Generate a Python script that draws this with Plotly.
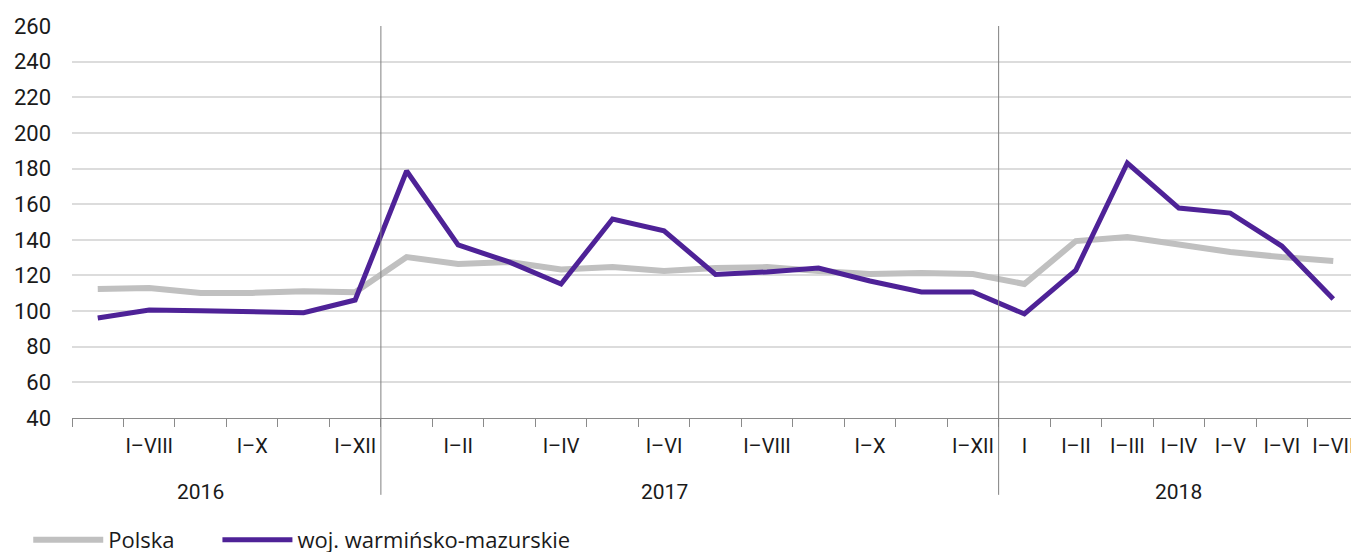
import plotly.graph_objects as go

periods = ["I–VII", "I–VIII", "I–IX", "I–X", "I–XI", "I–XII",
           "I", "I–II", "I–III", "I–IV", "I–V", "I–VI", "I–VII", "I–VIII", "I–IX", "I–X", "I–XI", "I–XII",
           "I", "I–II", "I–III", "I–IV", "I–V", "I–VI", "I–VII"]
shown = [False, True, False, True, False, True,
         False, True, False, True, False, True, False, True, False, True, False, True,
         True, True, True, True, True, True, True]
years = ["2016", "2017", "2018"]
year_counts = [6, 12, 7]

polska = [112.4, 113, 110.2, 110.2, 111.2, 110.6,
          130.3, 126.4, 127.5, 123.4, 124.7, 122.5, 124.2, 124.7, 122.5, 120.8, 121.4, 120.8,
          115.2, 139.3, 141.6, 137.6, 133.2, 130.3, 128.1]
warm = [96.1, 100.6, 100.2, 99.7, 99.1, 106.2,
        178.6, 137.1, 127.5, 115.2, 151.7, 145.0, 120.6, 122.0, 124.2, 116.9, 110.7, 110.7,
        98.4, 123.0, 183.1, 157.8, 155.0, 136.5, 106.8]

FONT = "Roboto, 'Open Sans', sans-serif"
LEGFONT = "'Open Sans', Roboto, sans-serif"
x = list(range(len(periods)))

fig = go.Figure()
fig.add_trace(go.Scatter(x=x, y=polska, name="Polska", mode="lines",
                         line=dict(color="#c0c0c0", width=6), legend="legend"))
fig.add_trace(go.Scatter(x=x, y=warm, name="woj. warmińsko-mazurskie", mode="lines",
                         line=dict(color="#4e2297", width=5), legend="legend2"))

# year separators and year labels
start = 0
for i, (yr, n) in enumerate(zip(years, year_counts)):
    fig.add_annotation(x=start + (n - 1) // 2, y=-0.189, xref="x", yref="paper", text=yr,
                       yanchor="middle", showarrow=False,
                       font=dict(size=21, color="#1a1a1a", family=FONT))
    if i > 0:
        fig.add_shape(type="line", xref="x", yref="paper", x0=start - 0.5, x1=start - 0.5,
                      y0=-0.196, y1=1, line=dict(color="#808080", width=1))
    start += n

leg_common = dict(orientation="h", y=-0.311, xanchor="left", yanchor="middle",
                  font=dict(size=22, family=LEGFONT), itemwidth=70, bgcolor="rgba(0,0,0,0)")

# page body has an 8px margin, so figure is offset by (8, 8)
fig.update_layout(
    width=1351, height=560,
    margin=dict(l=64, r=0, t=18, b=150),
    paper_bgcolor="white", plot_bgcolor="white",
    font=dict(family=FONT, size=21, color="#1a1a1a"),
    showlegend=True,
    legend=dict(x=-0.034, **leg_common),
    legend2=dict(x=0.113, **leg_common),
    xaxis=dict(range=[-0.5, len(periods) - 0.5],
               tickmode="array", tickvals=x,
               ticktext=[p if s else "" for p, s in zip(periods, shown)],
               ticks="", showgrid=False, zeroline=False, automargin=False,
               showline=True, linecolor="#8a8a8a", linewidth=1,
               tickfont=dict(size=20), ticklabelstandoff=10, ticklabeloverflow="allow",
               minor=dict(tick0=-0.5, dtick=1, ticks="outside", ticklen=8,
                          tickcolor="#8a8a8a", showgrid=False)),
    yaxis=dict(range=[40, 260], dtick=20, tick0=40, showgrid=True,
               gridcolor="#dcdcdc", gridwidth=1.5, zeroline=False, automargin=False,
               ticks="", tickfont=dict(size=22), showline=False, ticklabelstandoff=20),
)

fig.write_html("out.html", post_script="document.body.style.overflow='hidden';")
